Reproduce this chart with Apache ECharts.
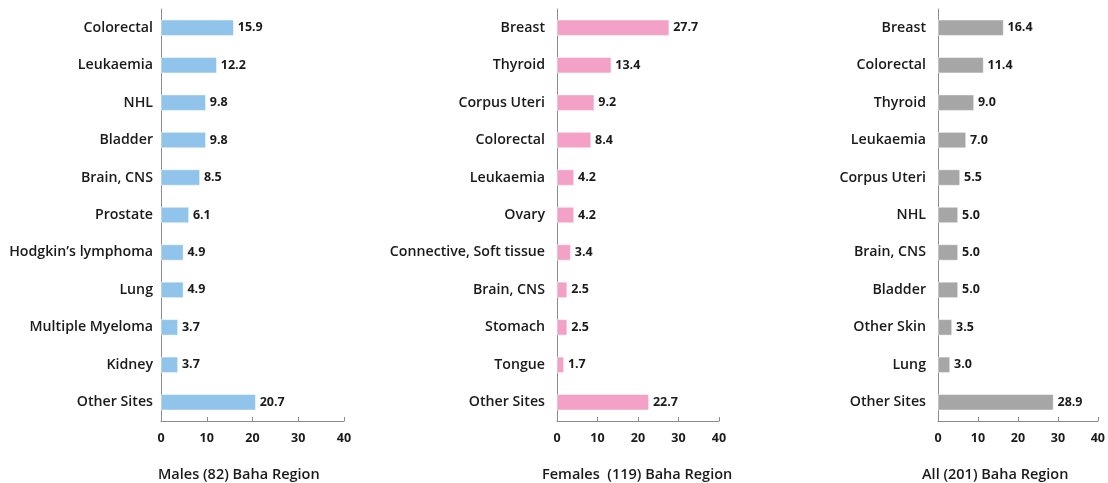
<!DOCTYPE html>
<html>
<head>
<meta charset="utf-8">
<script src="https://cdn.jsdelivr.net/npm/echarts@6/dist/echarts.min.js"></script>
<style>
html,body{margin:0;padding:0;background:#fff;}
#c{width:1108px;height:483px;}
</style>
</head>
<body>
<div id="c"></div>
<script>
const maleCategories = ["Colorectal","Leukaemia","NHL","Bladder","Brain, CNS","Prostate","Hodgkin\u2019s lymphoma","Lung","Multiple Myeloma","Kidney","Other Sites"];
const maleValues = [15.9,12.2,9.8,9.8,8.5,6.1,4.9,4.9,3.7,3.7,20.7];
const femaleCategories = ["Breast","Thyroid","Corpus Uteri","Colorectal","Leukaemia","Ovary","Connective, Soft tissue","Brain, CNS","Stomach","Tongue","Other Sites"];
const femaleValues = [27.7,13.4,9.2,8.4,4.2,4.2,3.4,2.5,2.5,1.7,22.7];
const allCategories = ["Breast","Colorectal","Thyroid","Leukaemia","Corpus Uteri","NHL","Brain, CNS","Bladder","Other Skin","Lung","Other Sites"];
const allValues = [16.4,11.4,9.0,7.0,5.5,5.0,5.0,5.0,3.5,3.0,28.9];
const panelTitles = ["Males (82) Baha Region","Females  (119) Baha Region","All (201) Baha Region"];
const xTicks = [0,10,20,30,40];

const panels = [
  {cats: maleCategories, vals: maleValues, color: "#90C4EA", grid: {left:161, width:183}, titleLeft:153, margin:8},
  {cats: femaleCategories, vals: femaleValues, color: "#F4A1C8", grid: {left:557, width:162}, titleLeft:537, margin:12},
  {cats: allCategories, vals: allValues, color: "#A6A6A6", grid: {left:938, width:161}, titleLeft:917, margin:12}
];

const labelFont = "'Open Sans', 'DejaVu Sans', sans-serif";
const option = {
  animation: false,
  backgroundColor: "#fff",
  title: panels.map((p,i)=>({
    text: panelTitles[i], left: p.titleLeft, top: 462,
    textStyle: {fontFamily: labelFont, fontSize: 14.5, fontWeight: 600, color: "#1a1a1a"}
  })),
  grid: panels.map(p=>({left:p.grid.left, width:p.grid.width, top:9, bottom:62, containLabel:false})),
  xAxis: panels.map((p,i)=>({
    type:"value", gridIndex:i, min:xTicks[0], max:xTicks[xTicks.length-1], interval:10,
    splitLine:{show:false},
    axisLine:{show:true, lineStyle:{color:"#8c8c8c", width:1}},
    axisTick:{show:true, inside:true, length:4, lineStyle:{color:"#8c8c8c"}},
    axisLabel:{fontFamily:labelFont, fontSize:12.5, fontWeight:"bold", color:"#1a1a1a", margin:11}
  })),
  yAxis: panels.map((p,i)=>({
    type:"category", gridIndex:i, data:p.cats, inverse:true,
    axisLine:{show:true, lineStyle:{color:"#8c8c8c", width:1}},
    axisTick:{show:false},
    axisLabel:{fontFamily:labelFont, fontSize:14.2, fontWeight:600, color:"#1a1a1a", margin:p.margin}
  })),
  series: panels.map((p,i)=>({
    type:"bar", xAxisIndex:i, yAxisIndex:i, data:p.vals, barWidth:16,
    itemStyle:{color:p.color, borderColor:"#ffffff", borderWidth:0.5},
    label:{show:true, position:"right", distance:4, formatter:(d)=>d.value.toFixed(1),
      fontFamily:labelFont, fontSize:12.5, fontWeight:"bold", color:"#1a1a1a"}
  }))
};
const chart = echarts.init(document.getElementById("c"), null, {renderer:"canvas"});
chart.setOption(option);
</script>
</body>
</html>
